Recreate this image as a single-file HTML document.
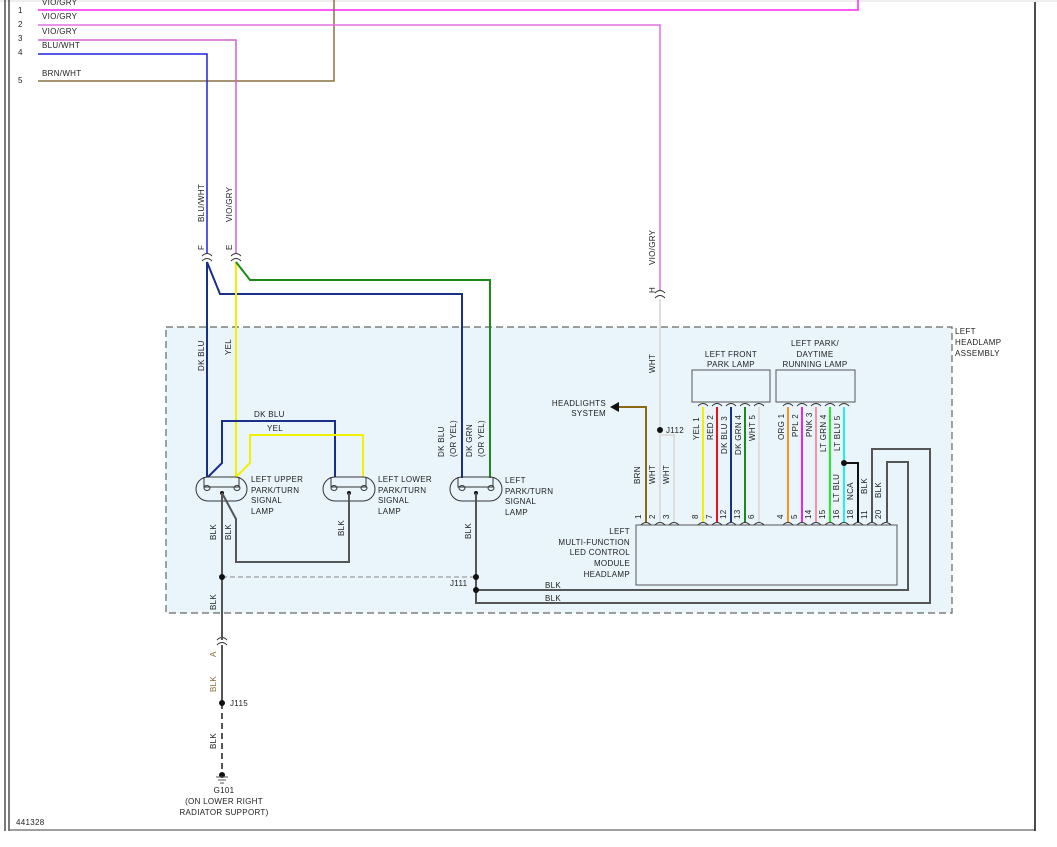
<!DOCTYPE html>
<html><head><meta charset="utf-8"><style>
html,body{margin:0;padding:0;background:#fff;width:1057px;height:847px;overflow:hidden}
svg{display:block}
text{font-family:"Liberation Sans",sans-serif;font-size:8px;fill:#222;letter-spacing:0.3px}
.b{fill:#8a6a3a}
</style></head><body>
<svg width="1057" height="847" viewBox="0 0 1057 847" xmlns="http://www.w3.org/2000/svg">
<!-- frame -->
<line x1="0" y1="1" x2="1057" y2="1" stroke="#ddd" stroke-width="1"/>
<line x1="5" y1="0" x2="5" y2="831" stroke="#222" stroke-width="1.2"/>
<line x1="9" y1="0" x2="9" y2="831" stroke="#222" stroke-width="1.2"/>
<line x1="9" y1="830" x2="1035" y2="830" stroke="#666" stroke-width="1.2"/>
<line x1="1035" y1="2" x2="1035" y2="831" stroke="#111" stroke-width="1.5"/>

<!-- assembly box -->
<rect x="166" y="327" width="786" height="286" fill="#e9f5fb" stroke="#666" stroke-width="1.2" stroke-dasharray="7,4"/>
<text x="955" y="334">LEFT</text><text x="955" y="345">HEADLAMP</text><text x="955" y="356">ASSEMBLY</text>

<!-- top wires -->
<text x="18" y="13">1</text><text x="18" y="27">2</text><text x="18" y="41">3</text><text x="18" y="55">4</text><text x="18" y="83">5</text>
<text x="42" y="5">VIO/GRY</text><text x="42" y="19">VIO/GRY</text><text x="42" y="34">VIO/GRY</text><text x="42" y="48">BLU/WHT</text><text x="42" y="76">BRN/WHT</text>
<polyline points="38,10 858,10 858,0" fill="none" stroke="#ff22ff" stroke-width="1.5"/>
<polyline points="334,0 334,81 38,81" fill="none" stroke="#8b7040" stroke-width="1.5"/>
<polyline points="38,25 660,25 660,290" fill="none" stroke="#e070e0" stroke-width="1.5"/>
<polyline points="38,40 236,40 236,253" fill="none" stroke="#d060d0" stroke-width="1.5"/>
<polyline points="38,54 207,54 207,253" fill="none" stroke="#2020dd" stroke-width="1.5"/>

<text transform="translate(204,222) rotate(-90)">BLU/WHT</text>
<text transform="translate(232,222) rotate(-90)">VIO/GRY</text>
<text transform="translate(204,250) rotate(-90)">F</text>
<text transform="translate(232,250) rotate(-90)">E</text>
<text transform="translate(655,265) rotate(-90)">VIO/GRY</text>
<text transform="translate(655,293) rotate(-90)">H</text>
<!-- connectors -->
<g fill="none" stroke="#333" stroke-width="1">
<path d="M202,256 Q207,251 212,256 M202,261 Q207,256 212,261"/>
<path d="M231,256 Q236,251 241,256 M231,261 Q236,256 241,261"/>
<path d="M655,293 Q660,288 665,293 M655,298 Q660,293 665,298"/>
<path d="M217,640 Q222,635 227,640 M217,645 Q222,640 227,645"/>
</g>

<!-- wires below F/E -->
<polyline points="207,262 207,477" fill="none" stroke="#1a2f8a" stroke-width="2"/>
<polyline points="207,262 220,294 462,294 462,478" fill="none" stroke="#1a2f8a" stroke-width="2"/>
<polyline points="236,262 236,477" fill="none" stroke="#f0f000" stroke-width="2"/>
<polyline points="236,262 250,280 490,280 490,478" fill="none" stroke="#1a8a1a" stroke-width="2"/>
<line x1="660" y1="299" x2="660" y2="522" stroke="#ddd" stroke-width="2"/>
<text transform="translate(655,373) rotate(-90)">WHT</text>
<text transform="translate(204,371) rotate(-90)">DK BLU</text>
<text transform="translate(231,355) rotate(-90)">YEL</text>
<text transform="translate(444,457) rotate(-90)">DK BLU</text>
<text transform="translate(456,457) rotate(-90)">(OR YEL)</text>
<text transform="translate(472,457) rotate(-90)">DK GRN</text>
<text transform="translate(484,457) rotate(-90)">(OR YEL)</text>

<!-- inner blue / yellow loops -->
<polyline points="208,477 222,463 222,421 335,421 335,477" fill="none" stroke="#1a2f8a" stroke-width="2"/>
<polyline points="236,477 250,463 250,435 363,435 363,477" fill="none" stroke="#f0f000" stroke-width="2"/>
<text x="254" y="417">DK BLU</text><text x="267" y="431">YEL</text>

<!-- lamps -->
<g fill="none" stroke="#333" stroke-width="1">
<rect x="196" y="477" width="51" height="24" rx="12"/><path d="M204,477 v10 h35 v-10"/><ellipse cx="207" cy="488" rx="3" ry="2.5"/><ellipse cx="237" cy="488" rx="3" ry="2.5"/>
<rect x="323" y="477" width="52" height="24" rx="12"/><path d="M331,477 v10 h35 v-10"/><ellipse cx="334" cy="488" rx="3" ry="2.5"/><ellipse cx="364" cy="488" rx="3" ry="2.5"/>
<rect x="450" y="477" width="52" height="24" rx="12"/><path d="M458,477 v10 h35 v-10"/><ellipse cx="462" cy="488" rx="3" ry="2.5"/><ellipse cx="491" cy="488" rx="3" ry="2.5"/>
</g>
<g fill="#111"><circle cx="222" cy="493" r="2"/><circle cx="349" cy="493" r="2"/><circle cx="476" cy="493" r="2"/></g>
<text x="251" y="482">LEFT UPPER</text><text x="251" y="493">PARK/TURN</text><text x="251" y="503">SIGNAL</text><text x="251" y="514">LAMP</text>
<text x="378" y="482">LEFT LOWER</text><text x="378" y="493">PARK/TURN</text><text x="378" y="503">SIGNAL</text><text x="378" y="514">LAMP</text>
<text x="505" y="483">LEFT</text><text x="505" y="494">PARK/TURN</text><text x="505" y="504">SIGNAL</text><text x="505" y="515">LAMP</text>

<!-- ground wires -->
<g fill="none" stroke="#555" stroke-width="2">
<polyline points="222,493 222,640"/>
<polyline points="222,493 236,519 236,562 349,562 349,493"/>
<polyline points="476,493 476,603 930,603 930,449 872,449 872,522"/>
<polyline points="476,590 908,590 908,462 887,462 887,522"/>
<polyline points="222,645 222,703"/>
</g>
<line x1="222" y1="577" x2="476" y2="577" stroke="#888" stroke-width="1" stroke-dasharray="5,3"/>
<line x1="222" y1="703" x2="222" y2="772" stroke="#555" stroke-width="2" stroke-dasharray="6,4"/>
<g fill="#111"><circle cx="222" cy="577" r="3"/><circle cx="476" cy="577" r="3"/><circle cx="476" cy="590" r="3"/><circle cx="222" cy="703" r="3"/><circle cx="222" cy="775" r="3"/></g>
<g stroke="#555" stroke-width="1"><line x1="216" y1="777" x2="228" y2="777"/><line x1="218" y1="780" x2="226" y2="780"/><line x1="220" y1="783" x2="224" y2="783"/></g>
<text transform="translate(216,540) rotate(-90)">BLK</text>
<text transform="translate(231,540) rotate(-90)">BLK</text>
<text transform="translate(344,536) rotate(-90)">BLK</text>
<text transform="translate(471,539) rotate(-90)">BLK</text>
<text transform="translate(216,610) rotate(-90)">BLK</text>
<text class="b" transform="translate(216,657) rotate(-90)">A</text>
<text class="b" transform="translate(216,692) rotate(-90)">BLK</text>
<text transform="translate(216,749) rotate(-90)">BLK</text>
<text x="230" y="706">J115</text>
<text x="450" y="586">J111</text>
<text x="545" y="588">BLK</text><text x="545" y="601">BLK</text>
<text x="224" y="793" text-anchor="middle">G101</text>
<text x="224" y="804" text-anchor="middle">(ON LOWER RIGHT</text>
<text x="224" y="815" text-anchor="middle">RADIATOR SUPPORT)</text>
<text x="16" y="825">441328</text>

<!-- lamp boxes -->
<rect x="692" y="370" width="78" height="32" fill="#e9f5fb" stroke="#555" stroke-width="1"/>
<rect x="776" y="370" width="79" height="32" fill="#e9f5fb" stroke="#555" stroke-width="1"/>
<text x="731" y="357" text-anchor="middle">LEFT FRONT</text><text x="731" y="367" text-anchor="middle">PARK LAMP</text>
<text x="815" y="346" text-anchor="middle">LEFT PARK/</text><text x="815" y="357" text-anchor="middle">DAYTIME</text><text x="815" y="367" text-anchor="middle">RUNNING LAMP</text>

<!-- module -->
<rect x="636" y="525" width="261" height="60" fill="#e9f5fb" stroke="#555" stroke-width="1"/>
<g text-anchor="end"><text x="630" y="534">LEFT</text><text x="630" y="545">MULTI-FUNCTION</text><text x="630" y="555">LED CONTROL</text><text x="630" y="566">MODULE</text><text x="630" y="577">HEADLAMP</text></g>

<!-- module wires -->
<polyline points="646,522 646,407 618,407" fill="none" stroke="#8b6914" stroke-width="2"/>
<polygon points="610,407 619,402 619,412" fill="#111"/>
<text x="606" y="406" text-anchor="end">HEADLIGHTS</text><text x="606" y="416" text-anchor="end">SYSTEM</text>
<polyline points="660,435 674,435 674,522" fill="none" stroke="#ddd" stroke-width="2"/>
<circle cx="660" cy="430" r="3" fill="#111"/><text x="666" y="433">J112</text>
<g stroke-width="2">
<line x1="703" y1="407" x2="703" y2="522" stroke="#f0f000"/>
<line x1="717" y1="407" x2="717" y2="522" stroke="#ee1111"/>
<line x1="731" y1="407" x2="731" y2="522" stroke="#1a2f8a"/>
<line x1="745" y1="407" x2="745" y2="522" stroke="#1a8a1a"/>
<line x1="759" y1="407" x2="759" y2="522" stroke="#ddd"/>
<line x1="788" y1="407" x2="788" y2="522" stroke="#ff9020"/>
<line x1="802" y1="407" x2="802" y2="522" stroke="#ee22ee"/>
<line x1="816" y1="407" x2="816" y2="522" stroke="#ff90a0"/>
<line x1="830" y1="407" x2="830" y2="522" stroke="#22ee22"/>
<line x1="844" y1="407" x2="844" y2="522" stroke="#22eeee"/>
</g>
<polyline points="844,463 858,463 858,522" fill="none" stroke="#111" stroke-width="2"/>
<circle cx="844" cy="463" r="3" fill="#111"/>
<!-- receptacles -->
<g fill="none" stroke="#333" stroke-width="1">
<path d="M698,406 q5,-5 10,0 M712,406 q5,-5 10,0 M726,406 q5,-5 10,0 M740,406 q5,-5 10,0 M754,406 q5,-5 10,0 M783,406 q5,-5 10,0 M797,406 q5,-5 10,0 M811,406 q5,-5 10,0 M825,406 q5,-5 10,0 M839,406 q5,-5 10,0"/>
<path d="M641,525 q5,-5 10,0 M655,525 q5,-5 10,0 M669,525 q5,-5 10,0 M698,525 q5,-5 10,0 M712,525 q5,-5 10,0 M726,525 q5,-5 10,0 M740,525 q5,-5 10,0 M754,525 q5,-5 10,0 M783,525 q5,-5 10,0 M797,525 q5,-5 10,0 M811,525 q5,-5 10,0 M825,525 q5,-5 10,0 M839,525 q5,-5 10,0 M853,525 q5,-5 10,0 M867,525 q5,-5 10,0 M881,525 q5,-5 10,0"/>
</g>
<!-- top pin labels -->
<g>
<text transform="translate(699,440) rotate(-90)">YEL 1</text>
<text transform="translate(713,440) rotate(-90)">RED 2</text>
<text transform="translate(727,454) rotate(-90)">DK BLU 3</text>
<text transform="translate(741,455) rotate(-90)">DK GRN 4</text>
<text transform="translate(755,441) rotate(-90)">WHT 5</text>
<text transform="translate(784,440) rotate(-90)">ORG 1</text>
<text transform="translate(798,437) rotate(-90)">PPL 2</text>
<text transform="translate(812,437) rotate(-90)">PNK 3</text>
<text transform="translate(826,452) rotate(-90)">LT GRN 4</text>
<text transform="translate(840,451) rotate(-90)">LT BLU 5</text>
</g>
<!-- bottom pin labels -->
<g>
<text transform="translate(641,519) rotate(-90)">1</text>
<text transform="translate(655,519) rotate(-90)">2</text>
<text transform="translate(669,519) rotate(-90)">3</text>
<text transform="translate(698,519) rotate(-90)">8</text>
<text transform="translate(712,519) rotate(-90)">7</text>
<text transform="translate(726,519) rotate(-90)">12</text>
<text transform="translate(740,519) rotate(-90)">13</text>
<text transform="translate(754,519) rotate(-90)">6</text>
<text transform="translate(783,519) rotate(-90)">4</text>
<text transform="translate(797,519) rotate(-90)">5</text>
<text transform="translate(811,519) rotate(-90)">14</text>
<text transform="translate(825,519) rotate(-90)">15</text>
<text transform="translate(839,519) rotate(-90)">16</text>
<text transform="translate(853,519) rotate(-90)">18</text>
<text transform="translate(867,519) rotate(-90)">11</text>
<text transform="translate(881,519) rotate(-90)">20</text>
<text transform="translate(640,484) rotate(-90)">BRN</text>
<text transform="translate(655,484) rotate(-90)">WHT</text>
<text transform="translate(669,484) rotate(-90)">WHT</text>
<text transform="translate(839,502) rotate(-90)">LT BLU</text>
<text transform="translate(853,500) rotate(-90)">NCA</text>
<text transform="translate(867,494) rotate(-90)">BLK</text>
<text transform="translate(881,498) rotate(-90)">BLK</text>
</g>
</svg>
</body></html>
